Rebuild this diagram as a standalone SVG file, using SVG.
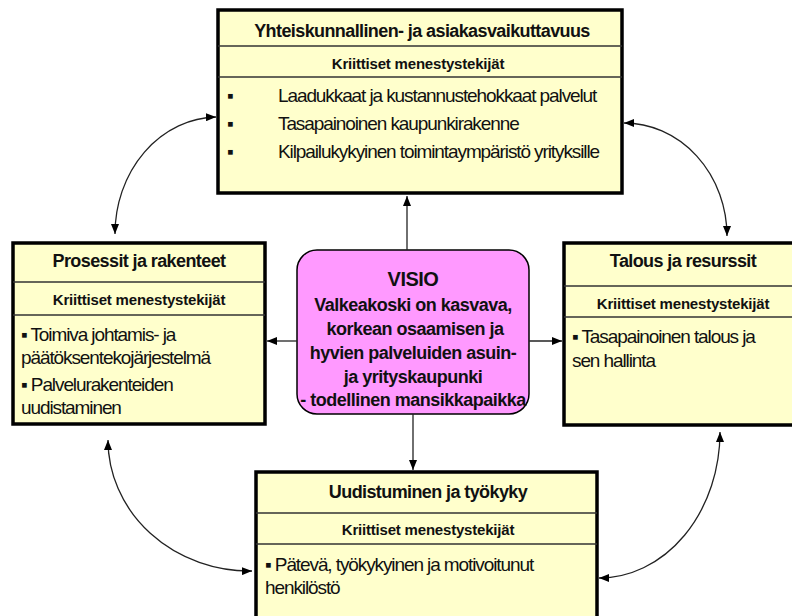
<svg xmlns="http://www.w3.org/2000/svg" width="792" height="616" viewBox="0 0 792 616">
<defs>
<style>
.box{fill:#FFFFCC;stroke:#000;stroke-width:3.5}
.div{stroke:#333;stroke-width:1.5}
.t{font-family:"Liberation Sans",Arial,sans-serif;fill:#111}
.ti{font-size:18px;font-weight:bold;letter-spacing:-0.6px;text-anchor:middle}
.su{font-size:15px;font-weight:bold;letter-spacing:-0.2px;text-anchor:middle}
.bd{font-size:19px;letter-spacing:-1.1px}
.vi{font-size:18px;font-weight:bold;letter-spacing:-0.5px;text-anchor:middle}
.con{fill:none;stroke:#222;stroke-width:1.3;marker-end:url(#ah)}
.dbl{marker-start:url(#ah)}
</style>
<marker id="ah" viewBox="0 0 10 8" refX="10" refY="4" markerWidth="10" markerHeight="8" markerUnits="userSpaceOnUse" orient="auto-start-reverse">
<path d="M0,0 L10,4 L0,8 z" fill="#000"/>
</marker>
</defs>
<rect width="792" height="616" fill="#fff"/>

<g id="top-node">
<rect class="box" x="218" y="10" width="404" height="183"/>
<line class="div" x1="218" y1="46" x2="622" y2="46"/>
<line class="div" x1="218" y1="77" x2="622" y2="77"/>
<text class="t ti" x="422" y="37">Yhteiskunnallinen- ja asiakasvaikuttavuus</text>
<text class="t su" x="418" y="69">Kriittiset menestystekijät</text>
<text class="t bd" x="227" y="102">▪</text>
<text class="t bd" x="278" y="102">Laadukkaat ja kustannustehokkaat palvelut</text>
<text class="t bd" x="227" y="130">▪</text>
<text class="t bd" x="278" y="130">Tasapainoinen kaupunkirakenne</text>
<text class="t bd" x="227" y="158">▪</text>
<text class="t bd" x="278" y="158">Kilpailukykyinen toimintaympäristö yrityksille</text>
</g>

<g id="left-node">
<rect class="box" x="13" y="243" width="252" height="181"/>
<line class="div" x1="13" y1="282" x2="265" y2="282"/>
<line class="div" x1="13" y1="315" x2="265" y2="315"/>
<text class="t ti" x="139" y="267">Prosessit ja rakenteet</text>
<text class="t su" x="139" y="305">Kriittiset menestystekijät</text>
<text class="t bd" x="21" y="341">▪ Toimiva johtamis- ja</text>
<text class="t bd" x="21" y="364">päätöksentekojärjestelmä</text>
<text class="t bd" x="21" y="391">▪ Palvelurakenteiden</text>
<text class="t bd" x="21" y="414">uudistaminen</text>
</g>

<g id="right-node">
<rect class="box" x="564" y="243" width="240" height="182"/>
<line class="div" x1="564" y1="286" x2="804" y2="286"/>
<line class="div" x1="564" y1="317" x2="804" y2="317"/>
<text class="t ti" x="683" y="267">Talous ja resurssit</text>
<text class="t su" x="683" y="309">Kriittiset menestystekijät</text>
<text class="t bd" x="572" y="343">▪ Tasapainoinen talous ja</text>
<text class="t bd" x="572" y="367">sen hallinta</text>
</g>

<g id="bottom-node">
<rect class="box" x="256" y="472" width="341" height="160"/>
<line class="div" x1="256" y1="513" x2="597" y2="513"/>
<line class="div" x1="256" y1="544" x2="597" y2="544"/>
<text class="t ti" x="428" y="498">Uudistuminen ja työkyky</text>
<text class="t su" x="428" y="535">Kriittiset menestystekijät</text>
<text class="t bd" x="265" y="571">▪ Pätevä, työkykyinen ja motivoitunut</text>
<text class="t bd" x="265" y="594">henkilöstö</text>
</g>

<g id="visio-node">
<rect x="297" y="250" width="232" height="164" rx="20" ry="20" fill="#FF99FF" stroke="#000" stroke-width="1.5"/>
<text class="t vi" x="413" y="286" style="font-size:20px">VISIO</text>
<text class="t vi" x="413" y="311">Valkeakoski on kasvava,</text>
<text class="t vi" x="415" y="335">korkean osaamisen ja</text>
<text class="t vi" x="413" y="359">hyvien palveluiden asuin-</text>
<text class="t vi" x="413" y="383">ja yrityskaupunki</text>
<text class="t vi" x="413" y="406">- todellinen mansikkapaikka</text>
</g>

<g id="connectors">
<path class="con" d="M407,250 L407,196"/>
<path class="con" d="M297,341 L267,341"/>
<path class="con" d="M529,341 L562,341"/>
<path class="con" d="M413,414 L413,470"/>
<path class="con dbl" d="M216,117 A103,117 0 0 0 115,234"/>
<path class="con dbl" d="M624,123 A103,113 0 0 1 727,236"/>
<path class="con dbl" d="M108,440 A142,131 0 0 0 252,571"/>
<path class="con dbl" d="M720,432 A121,146 0 0 1 599,578"/>
</g>
</svg>
